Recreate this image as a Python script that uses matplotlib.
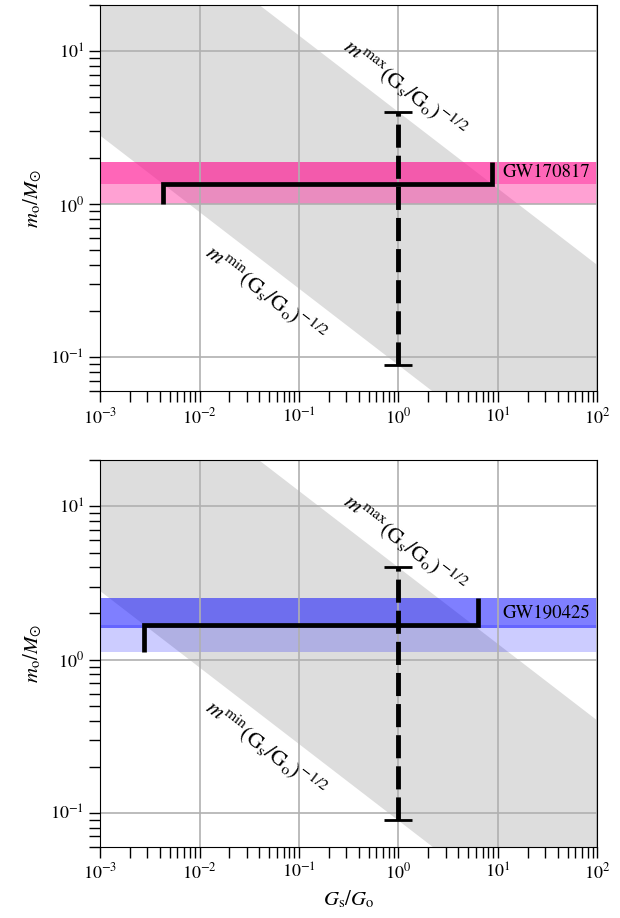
import numpy as np
import matplotlib
matplotlib.use('Agg')
import matplotlib.pyplot as plt

plt.rcParams['font.family'] = 'STIXGeneral'
plt.rcParams['mathtext.fontset'] = 'stix'

# masses (M_sun) of the two events, high-spin priors
events = ['GW170817', 'GW190425']
m1_range = [(1.36, 1.89), (1.61, 2.52)]
m2_range = [(1.00, 1.36), (1.12, 1.68)]
band_color = ['deeppink', 'blue']
m1_alpha = [0.65, 0.5]
m2_alpha = [0.4, 0.2]
# allowed G_s/G_o interval for each event
gs_interval = [(0.0043, 8.8), (0.0028, 6.3)]

# mass window at G_s = G_o
m_min = 0.089
m_max = 4.0
gs_ratio = np.array([1e-3, 1e2])

fig, axes = plt.subplots(2, 1, figsize=(6.2, 9.18), dpi=100)
fig.subplots_adjust(left=0.1613, right=0.9637, top=0.9946, bottom=0.0777, hspace=0.179)

for i, ax in enumerate(axes):
    ax.set_xscale('log')
    ax.set_yscale('log')
    # grey band m ~ (Gs/Go)^-1/2
    ax.fill_between(gs_ratio, m_min * gs_ratio**-0.5, m_max * gs_ratio**-0.5,
                    color='#dddddd', lw=0, zorder=0.5)
    ax.axhspan(m1_range[i][0], m1_range[i][1], color=band_color[i], alpha=m1_alpha[i], lw=0, zorder=0.8)
    ax.axhspan(m2_range[i][0], m2_range[i][1], color=band_color[i], alpha=m2_alpha[i], lw=0, zorder=0.8)

    eb = ax.errorbar([1.0], [1.0], yerr=[[1.0 - m_min], [m_max - 1.0]], fmt='none',
                     ecolor='k', elinewidth=3.5, capsize=10, capthick=2, zorder=3)
    eb[2][0].set_linestyle((0, (4.75, 1.65)))

    xl, xr = gs_interval[i]
    ax.plot([xl, xl, xr, xr], [m2_range[i][0], m2_range[i][1], m2_range[i][1], m1_range[i][1]],
            color='k', lw=3.4, solid_joinstyle='miter', solid_capstyle='butt', zorder=3)

    ax.text(11, np.sqrt(m1_range[i][0] * m1_range[i][1]), events[i], ha='left', va='center', fontsize=13.5)

    ax.text(1.16, 5.7, r'$m^{\rm max}({\rm G_s}/{\rm G_o})^{-1/2}$', rotation=-37.5,
            ha='center', va='center', rotation_mode='anchor', fontsize=16)
    ax.text(0.0455, 0.26, r'$m^{\rm min}({\rm G_s}/{\rm G_o})^{-1/2}$', rotation=-37.5,
            ha='center', va='center', rotation_mode='anchor', fontsize=16)

    ax.set_xlim(1e-3, 1e2)
    ax.set_ylim(0.06, 20)
    ax.grid(True, which='major', color='#b0b0b0', lw=1.2)
    ax.tick_params(which='both', direction='out', length=8, width=1.0, labelsize=13)
    ax.set_ylabel(r'$m_{\rm o}/M_{\odot}$', fontsize=15)

axes[1].set_xlabel(r'$G_{\rm s}/G_{\rm o}$', fontsize=15)

fig.savefig('out.png', dpi=100)
